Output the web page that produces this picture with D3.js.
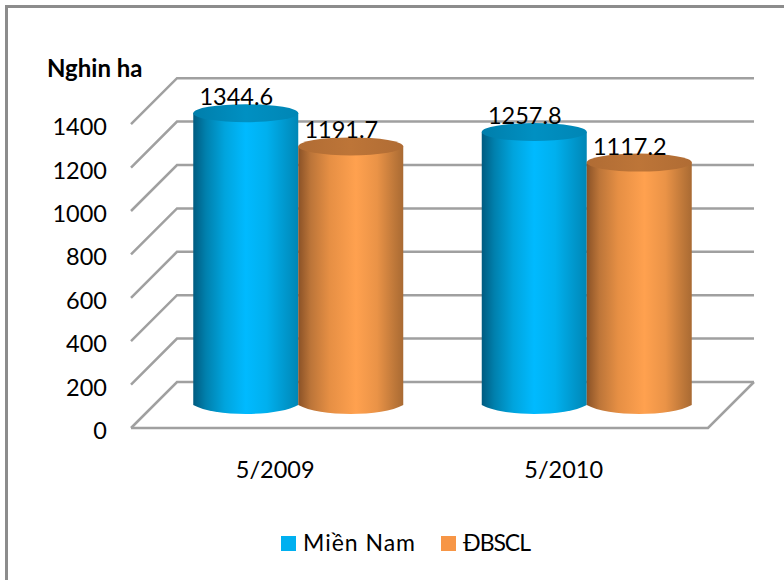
<!DOCTYPE html>
<html><head><meta charset="utf-8">
<script src="https://cdn.jsdelivr.net/npm/d3@7"></script>
<style>html,body{margin:0;padding:0;background:#fff}svg{display:block}text{font-family:Lato,Carlito,sans-serif;fill:#000}</style>
</head><body><svg id="c" width="784" height="580"></svg>
<script>
const categories = ["5/2009", "5/2010"];
const seriesNames = ["Miền Nam", "ĐBSCL"];
const mienNam = [1344.6, 1257.8];
const dbscl = [1191.7, 1117.2];
const yTicks = [0, 200, 400, 600, 800, 1000, 1200, 1400];
const yTitle = "Nghin ha";
const seriesColors = ["#00b0f0", "#f79646"];

const svg = d3.select("#c");
const depth = 46, rx = 52.5, ry = 9, fs = 23.5;
const y = d3.scaleLinear().domain([0, 1400]).range([428, 124.2]);
const x0 = d3.scaleBand().domain(categories).range([131, 708]);
const x1 = d3.scaleBand().domain(seriesNames).range([x0.bandwidth() / 2 - 105, x0.bandwidth() / 2 + 105]);

const defs = svg.append("defs");
const stops = [
  [[0, "#005b80"], [.12, "#0080ad"], [.3, "#00a4dd"], [.5, "#00baff"], [.7, "#00b0ee"], [.9, "#0094c8"], [1, "#0086b5"]],
  [[0, "#8a5227"], [.12, "#bc7539"], [.3, "#e68f44"], [.55, "#ffa14f"], [.75, "#ea9347"], [.92, "#bd7739"], [1, "#a96a33"]]
];
stops.forEach((s, i) => {
  const g = defs.append("linearGradient").attr("id", "g" + i);
  s.forEach(d => g.append("stop").attr("offset", d[0]).attr("stop-color", d[1]));
});
const topG = [["#007eab", "#0090c2", "#0086b5"], ["#b06c34", "#bd7538", "#b06c34"]];
topG.forEach((s, i) => {
  const g = defs.append("linearGradient").attr("id", "t" + i);
  s.forEach((c, k) => g.append("stop").attr("offset", k / 2).attr("stop-color", c));
});
const soft = defs.append("filter").attr("id", "ls").attr("filterUnits", "userSpaceOnUse")
  .attr("x", 0).attr("y", 0).attr("width", 784).attr("height", 580);
soft.append("feGaussianBlur").attr("stdDeviation", .4);

// frame: only the top and left edges show
svg.append("path").attr("d", d3.line()([[6.5, 580], [6.5, 6.5], [784, 6.5]]))
  .attr("fill", "none").attr("stroke", "#8c8c8c").attr("stroke-width", 3);

// floor + wall grid
const grid = svg.append("g").attr("fill", "none").attr("stroke", "#a0a0a0").attr("stroke-width", 2.5).attr("filter", "url(#ls)");
yTicks.forEach(t => {
  const yy = y(t);
  grid.append("path").attr("d", d3.line()([[131, yy], [131 + depth, yy - depth], [708 + depth, yy - depth]]));
});
grid.append("path").attr("d", d3.line()([[131, y(0)], [708, y(0)], [708 + depth, y(0) - depth]]));

// cylinders
const series = [mienNam, dbscl];
const cylinders = svg.append("g");
categories.forEach((c, ci) => {
  series.forEach((vals, si) => {
    const cx = x0(c) + depth / 2 + x1(seriesNames[si]) + x1.bandwidth() / 2;
    const yb = y(0) - depth / 2;
    const yt = y(vals[ci]) - depth / 2;
    const p = d3.path();
    p.moveTo(cx - rx, yt);
    p.lineTo(cx - rx, yb);
    p.bezierCurveTo(cx - rx * .6, yb + ry * 1.33, cx + rx * .6, yb + ry * 1.33, cx + rx, yb);
    p.lineTo(cx + rx, yt);
    p.closePath();
    cylinders.append("path").attr("d", p.toString()).attr("fill", `url(#g${si})`);
    cylinders.append("ellipse").attr("cx", cx).attr("cy", yt).attr("rx", rx).attr("ry", ry).attr("fill", `url(#t${si})`);
  });
});

// data labels
categories.forEach((c, ci) => {
  series.forEach((vals, si) => {
    const cx = x0(c) + depth / 2 + x1(seriesNames[si]) + x1.bandwidth() / 2;
    svg.append("text").attr("x", cx - 9.5).attr("y", y(vals[ci]) - depth / 2 - 8)
      .attr("text-anchor", "middle").attr("font-size", fs).text(d3.format(".1f")(vals[ci]));
  });
});

// y axis labels
const yAxis = svg.append("g").attr("transform", "translate(107,3)")
  .call(d3.axisLeft(y).tickValues(yTicks).tickSize(0).tickPadding(0).tickFormat(d3.format("d")));
yAxis.select(".domain").remove();
yAxis.selectAll("text").attr("font-size", fs).attr("font-family", "Lato,Carlito,sans-serif").attr("fill", "#000");

// x labels
categories.forEach(c => {
  svg.append("text").attr("x", x0(c) + x0.bandwidth() / 2).attr("y", 478)
    .attr("text-anchor", "middle").attr("font-size", fs).text(c);
});

// title
svg.append("text").attr("x", 47).attr("y", 76.5).attr("font-size", 24).attr("font-weight", 700).text(yTitle);

// legend
const legendX = [281, 441], legendW = [112, 68];
seriesNames.forEach((n, i) => {
  svg.append("rect").attr("x", legendX[i]).attr("y", 536).attr("width", 15).attr("height", 15).attr("fill", seriesColors[i]);
  svg.append("text").attr("x", legendX[i] + 22).attr("y", 551).attr("font-size", 23)
    .attr("textLength", legendW[i]).attr("lengthAdjust", "spacing").text(n);
});
</script></body></html>
